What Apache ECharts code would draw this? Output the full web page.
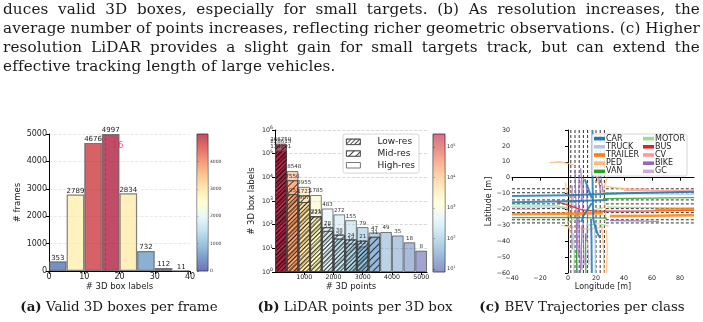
<!DOCTYPE html>
<html>
<head>
<meta charset="utf-8">
<script src="https://cdn.jsdelivr.net/npm/echarts@6/dist/echarts.min.js"></script>
<style>
  html, body { margin: 0; padding: 0; background: #fff; }
  #main { position: absolute; left: 0; top: 0; width: 703px; height: 322px; }
  .para { position: absolute; left: 3px; font-family: "DejaVu Serif", serif; white-space: nowrap;
          font-size: 15.2px; letter-spacing: 0.15px; line-height: 19px; color: #1a1a1a; }
</style>
</head>
<body>
<div id="main"></div>
<div class="para just" style="top:0px">duces valid 3D boxes, especially for small targets. (b) As resolution increases, the</div>
<div class="para just" style="top:19px">average number of points increases, reflecting richer geometric observations. (c) Higher</div>
<div class="para just" style="top:38px">resolution LiDAR provides a slight gain for small targets track, but can extend the</div>
<div class="para" style="top:57px">effective tracking length of large vehicles.</div>
<script>
// (a) valid 3D boxes per frame
var boxBinLeft = [0, 5, 10, 15, 20, 25, 30, 35];
var boxBinWidth = 5;
var frameCounts = [353, 2789, 4676, 4997, 2834, 732, 112, 11];
var meanBoxes = 16;
var frameTicks = [0, 1000, 2000, 3000, 4000];

// (b) LiDAR points per 3D box
var pointBinLeft = [0, 400, 800, 1200, 1600, 2000, 2400, 2800, 3200, 3600, 4000, 4400, 4800];
var pointBinWidth = 400;
var lowRes  = [134291, 1951, 907, 223, 55, 26, 24, 21, null, null, null, null, null];
var midRes  = [228613, 7550, 1721, 231, 78, 38, 16, 12, 31, null, null, null, null];
var highRes = [266750, 18548, 3955, 1785, 483, 272, 155, 79, 47, 49, 35, 18, 8];
var pointTicks = [1000, 2000, 3000, 4000, 5000];
var countTicks = [10, 100, 1000, 10000, 100000];

// (c) BEV trajectories, [lon, lat] in metres
var lonTicks = [-40, -20, 0, 20, 40, 60, 80];
var laneRows = [-7, -9.5, -14, -16.5, -19.5, -22, -26.5, -28.5];
var laneCols = [2, 5, 8, 11, 14, 20, 23, 26];
var carTracks = [
  [[-40,-11.5],[0,-11],[40,-9.8],[90,-8.8]],
  [[-40,-15.5],[0,-14.8],[28,-14]],
  [[17.5,30],[17.5,0],[17.8,-15],[18,-26]],
  [[18,-26],[19.5,-31],[21,-35],[23,-38]],
  [[12,-1],[14.5,-7],[17,-13]],
  [[17,-16],[14,-20],[11,-24],[9.5,-28]],
  [[16.5,-26],[16.8,-40],[17,-60]]
];
var truckTracks = [
  [[30,-10],[60,-10.2],[90,-10.5]],
  [[-40,-18.5],[-15,-18.5],[0,-19]],
  [[19,-30],[19.5,-45],[19.5,-60]]
];
var trailerTracks = [
  [[-40,-23],[0,-22.6],[25,-22.3]],
  [[30,-24.2],[60,-24],[90,-23.6]],
  [[62,-20.2],[90,-19.8]]
];
var pedTracks = [
  [[-13,9.5],[-6,10],[0,9],[4,8]],
  [[27,-5.5],[35,-6.5],[45,-7.2],[58,-7.3]],
  [[-1,-14],[-0.5,-22],[0,-30],[2,-35]],
  [[24,-30],[25,-40],[25.5,-50],[25.8,-60]],
  [[27.5,-33],[28,-45],[27.5,-60]],
  [[20,2],[22,-4],[24.5,-10]],
  [[-5,-30],[5,-31.5],[15,-32.5],[26,-31]],
  [[-2,-3],[-1,-8],[0,-12]],
  [[28,0],[26,-5],[25,-12]],
  [[1,-5],[1.5,-15],[0.5,-25]],
  [[26,-14],[27,-22],[26.5,-28]]
];
var vanTracks = [
  [[25,-13.2],[60,-12.9],[90,-12.6]],
  [[-40,-25.2],[0,-25],[28,-25.5]],
  [[6,-45],[6.5,-60]],
  [[12.5,-35],[12.8,-60]]
];
var motorTracks = [
  [[25,-9.5],[60,-9.2],[90,-9]],
  [[28,-18.6],[60,-18.8],[90,-19]],
  [[0,-28],[8,-24],[15,-21],[25,-19]],
  [[-40,-17],[-10,-17.5],[0,-19]],
  [[29,-30.5],[22,-29],[13,-30]],
  [[4,-35],[4.5,-50],[4,-60]]
];
var busTracks = [
  [[20,-21],[50,-21],[90,-20.6]],
  [[-8,-15.2],[-2,-16.6],[4,-18.5],[10,-20.3],[20,-21]]
];
var cvTracks = [
  [[40,-8],[70,-8.2],[90,-7.8]],
  [[-40,-19.8],[-20,-20]]
];
var bikeTracks = [
  [[5,5],[5.5,-10],[6,-30],[6.2,-60]],
  [[8,2],[7.5,-15],[8,-35],[9,-60]],
  [[11,0],[10.5,-20],[11,-40],[11.5,-55]],
  [[13,-5],[14,-20],[13.5,-40]],
  [[3,-5],[2.5,-25],[3,-45]],
  [[21,8],[22,0],[23,-8]],
  [[30,-27],[50,-27.2],[65,-27.6]],
  [[9,6],[10,-5],[9.5,-15]],
  [[7,-20],[6.5,-35],[7.5,-50]],
  [[10,-30],[9.5,-45],[10,-58]],
  [[23,5],[24,-3],[25,-9]]
];
var gcTracks = [
  [[9,-2],[10,-12]],
  [[14,-40],[15,-55]],
  [[4,-10],[3.5,-20]]
];

var myChart = echarts.init(document.getElementById('main'));

// justify the paragraph lines to the text block width
Array.prototype.forEach.call(document.querySelectorAll('.just'), function (el) {
  var txt = el.textContent;
  el.innerHTML = '<span>' + txt + '</span>';
  var w = el.firstChild.getBoundingClientRect().width;
  var n = txt.split(' ').length - 1;
  el.style.wordSpacing = ((697 - w) / n) + 'px';
});

// RdYlBu_r
var cmapStops = ['#313695','#4575b4','#74add1','#abd9e9','#e0f3f8','#ffffbf',
                 '#fee090','#fdae61','#f46d43','#d73027','#a50026'];
function hexRgb(h) {
  return [parseInt(h.substr(1,2),16), parseInt(h.substr(3,2),16), parseInt(h.substr(5,2),16)];
}
function cmap(t, a) {
  t = Math.max(0, Math.min(1, t));
  var k = t * 10, i = Math.min(9, Math.floor(k)), f = k - i;
  var c0 = hexRgb(cmapStops[i]), c1 = hexRgb(cmapStops[i + 1]);
  var c = c0.map(function (v, j) { return Math.round(v + (c1[j] - v) * f); });
  return 'rgba(' + c[0] + ',' + c[1] + ',' + c[2] + ',' + a + ')';
}
function gradient(a) {
  return new echarts.graphic.LinearGradient(0, 1, 0, 0, cmapStops.map(function (s, i) {
    return { offset: i / 10, color: cmap(i / 10, a) };
  }));
}
function pow10(v) { return '10{s|' + Math.round(Math.log10(v)) + '}'; }
function plain(v) { return String(v).replace('-', '−'); }

var gA = { left: 49, top: 134, width: 141, height: 137 };
var cA = { left: 197, top: 134, width: 11, height: 137 };
var gB = { left: 275, top: 130, width: 152, height: 142 };
var cB = { left: 433, top: 134, width: 12, height: 138 };
var gC = { left: 512, top: 130, width: 182, height: 143 };

var frameMax = Math.max.apply(null, frameCounts);
var cbMin = Math.min.apply(null, highRes), cbMax = Math.max.apply(null, highRes);
function logT(v) { return (Math.log10(v) - Math.log10(cbMin)) / (Math.log10(cbMax) - Math.log10(cbMin)); }

var lowDecal = { symbol: 'rect', symbolSize: 1, dashArrayX: [1, 0], dashArrayY: [1, 1.6],
                 rotation: -Math.PI / 4, color: 'rgba(0,0,0,0.7)' };
var midDecal = { symbol: 'rect', symbolSize: 1, dashArrayX: [1, 0], dashArrayY: [1, 4],
                 rotation: -Math.PI / 4, color: 'rgba(0,0,0,0.7)' };

function axisBase(fs) {
  return {
    axisLine: { show: true, lineStyle: { color: '#000', width: 1 } },
    axisTick: { show: true, inside: false, length: 3, lineStyle: { color: '#000' } },
    axisLabel: { fontSize: fs, color: '#222', margin: 2, formatter: plain },
    splitLine: { show: false }
  };
}
function merge(a, b) { for (var k in b) a[k] = b[k]; return a; }
var supRich = { s: { fontSize: 4.6, padding: [0, 0, 4, 0], color: '#222' } };

function pointSeries(name, vals, decal) {
  return {
    name: name, type: 'bar', xAxisIndex: 2, yAxisIndex: 2,
    barWidth: gB.width * pointBinWidth / 5200, barGap: '-100%',
    data: vals.map(function (v, i) {
      return v == null ? [pointBinLeft[i] + pointBinWidth / 2, null] : {
        value: [pointBinLeft[i] + pointBinWidth / 2, v],
        itemStyle: { color: cmap(logT(highRes[i]), 0.45) }
      };
    }),
    itemStyle: { borderColor: 'rgba(70,70,70,0.7)', borderWidth: 1, decal: decal },
    label: { show: true, position: 'top', distance: 1, fontSize: 5.5, color: '#333',
             formatter: function (p) { return p.value[1]; } }
  };
}

function trackSeries(name, tracks, color, width) {
  return {
    name: name, type: 'lines', coordinateSystem: 'cartesian2d', xAxisIndex: 4, yAxisIndex: 4,
    polyline: true, silent: true,
    lineStyle: { color: color, width: width, opacity: 0.85 },
    data: tracks.map(function (t) { return { coords: t }; })
  };
}

var laneData = [];
laneRows.forEach(function (y) {
  laneData.push({ coords: [[-40, y], [0, y]] });
  laneData.push({ coords: [[27, y], [90, y]] });
});
laneCols.forEach(function (x) {
  laneData.push({ coords: [[x, 30], [x, -60]] });
});

var classes = [
  ['PED', pedTracks, '#ffbb78', 1.3],
  ['BIKE', bikeTracks, '#9467bd', 1.2],
  ['GC', gcTracks, '#c5b0d5', 1.2],
  ['MOTOR', motorTracks, '#98df8a', 1.2],
  ['TRUCK', truckTracks, '#aec7e8', 1.4],
  ['CV', cvTracks, '#ff9896', 1.2],
  ['VAN', vanTracks, '#2ca02c', 1.3],
  ['BUS', busTracks, '#d62728', 1.3],
  ['TRAILER', trailerTracks, '#ff7f0e', 2.6],
  ['CAR', carTracks, '#1f77b4', 2]
];
var classColor = {};
classes.forEach(function (c) { classColor[c[0]] = c[2]; });
function legendItems(names) {
  return names.map(function (n) { return { name: n, itemStyle: { color: classColor[n] } }; });
}
var captionRich = { b: { fontWeight: 'bold', fontSize: 13.4, fontFamily: 'DejaVu Serif', fill: '#1a1a1a' } };

var option = {
  animation: false,
  textStyle: { fontFamily: 'DejaVu Sans' },
  grid: [
    gA,
    merge({ show: true, borderColor: '#333', borderWidth: 0.8 }, cA),
    gB,
    merge({ show: true, borderColor: '#333', borderWidth: 0.8 }, cB),
    gC
  ],
  xAxis: [
    merge(axisBase(8), { gridIndex: 0, type: 'value', min: 0, max: 40, interval: 10,
      name: '# 3D box labels', nameLocation: 'middle', nameGap: 11,
      nameTextStyle: { fontSize: 8.5, color: '#222' } }),
    { gridIndex: 1, type: 'value', min: 0, max: 1, show: false },
    merge(axisBase(6.3), { gridIndex: 2, type: 'value', min: 0, max: 5200,
      axisLabel: { fontSize: 6.3, color: '#222', margin: 2, customValues: pointTicks, formatter: plain },
      axisTick: { show: true, length: 3, lineStyle: { color: '#000' }, customValues: pointTicks },
      name: '# 3D points', nameLocation: 'middle', nameGap: 10,
      nameTextStyle: { fontSize: 8.5, color: '#222' } }),
    { gridIndex: 3, type: 'value', min: 0, max: 1, show: false },
    merge(axisBase(6.3), { gridIndex: 4, type: 'value', min: -40, max: 90,
      axisLabel: { fontSize: 6.3, color: '#222', margin: 2, customValues: lonTicks, formatter: plain },
      axisTick: { show: true, length: 3, lineStyle: { color: '#000' }, customValues: lonTicks },
      name: 'Longitude [m]', nameLocation: 'middle', nameGap: 10,
      nameTextStyle: { fontSize: 8, color: '#222' } })
  ],
  yAxis: [
    merge(axisBase(8), { gridIndex: 0, type: 'value', min: 0, max: 5000, interval: 1000,
      splitLine: { show: true, lineStyle: { color: '#e4e4e4', type: 'dashed', width: 0.8 } },
      name: '# frames', nameLocation: 'middle', nameGap: 27,
      nameTextStyle: { fontSize: 8.5, color: '#222' } }),
    { gridIndex: 1, type: 'value', min: 0, max: frameMax, position: 'right',
      axisLine: { show: false },
      axisTick: { show: true, length: 2, lineStyle: { color: '#333', width: 0.6 }, customValues: frameTicks },
      axisLabel: { fontSize: 4.5, color: '#333', margin: 2, customValues: frameTicks, formatter: plain },
      splitLine: { show: false } },
    merge(axisBase(6.3), { gridIndex: 2, type: 'log', logBase: 10, min: 1, max: 1e6,
      axisLabel: { fontSize: 6.3, color: '#222', margin: 2, formatter: pow10, rich: supRich },
      splitLine: { show: true, lineStyle: { color: '#cfcfcf', type: 'dashed', width: 0.8 } },
      name: '# 3D box labels', nameLocation: 'middle', nameGap: 19,
      nameTextStyle: { fontSize: 8.5, color: '#222' } }),
    { gridIndex: 3, type: 'log', logBase: 10, min: cbMin, max: cbMax, position: 'right',
      axisLine: { show: false },
      axisTick: { show: true, length: 2, lineStyle: { color: '#333', width: 0.6 }, customValues: countTicks },
      axisLabel: { fontSize: 5, color: '#333', margin: 2, customValues: countTicks, formatter: pow10,
                   rich: { s: { fontSize: 3.6, padding: [0, 0, 3, 0], color: '#333' } } },
      splitLine: { show: false } },
    merge(axisBase(6.3), { gridIndex: 4, type: 'value', min: -60, max: 30, interval: 10,
      name: 'Latitude [m]', nameLocation: 'middle', nameGap: 18,
      nameTextStyle: { fontSize: 8, color: '#222' } })
  ],
  legend: [
    { data: [
        { name: 'Low-res', itemStyle: { color: '#fff', borderColor: '#555', borderWidth: 0.8, decal: lowDecal } },
        { name: 'Mid-res', itemStyle: { color: '#fff', borderColor: '#555', borderWidth: 0.8, decal: midDecal } },
        { name: 'High-res', itemStyle: { color: '#fff', borderColor: '#555', borderWidth: 0.8 } }
      ],
      left: 343, top: 134, orient: 'vertical', icon: 'rect', itemWidth: 14, itemHeight: 5.5, itemGap: 0,
      padding: [2, 4, 2, 3], selectedMode: false,
      backgroundColor: 'rgba(255,255,255,0.85)', borderColor: '#ccc', borderWidth: 0.8, borderRadius: 2,
      textStyle: { fontSize: 9, color: '#222', lineHeight: 11.7, padding: [0, 0, 0, 12] } },
    { data: legendItems(['CAR', 'TRUCK', 'TRAILER', 'PED', 'VAN']),
      left: 594, top: 134.5, orient: 'vertical', icon: 'rect', itemWidth: 9, itemHeight: 1.6, itemGap: 0,
      padding: 0, selectedMode: false,
      textStyle: { fontSize: 8, color: '#222', lineHeight: 8.2, padding: [0, 0, 0, -3] } },
    { data: legendItems(['MOTOR', 'BUS', 'CV', 'BIKE', 'GC']),
      left: 643, top: 134.5, orient: 'vertical', icon: 'rect', itemWidth: 9, itemHeight: 1.6, itemGap: 0,
      padding: 0, selectedMode: false,
      textStyle: { fontSize: 8, color: '#222', lineHeight: 8.2, padding: [0, 0, 0, -3] } }
  ],
  graphic: [
    { type: 'rect', z: 3, shape: { x: 592, y: 134, width: 95, height: 42, r: 2 },
      style: { fill: 'rgba(255,255,255,0.85)', stroke: '#ccc', lineWidth: 0.8 } },
    { type: 'text', x: 119, y: 308, style: { text: '{b|(a)} Valid 3D boxes per frame', align: 'center',
      verticalAlign: 'middle', font: '13.4px "DejaVu Serif"', fill: '#1a1a1a', rich: captionRich } },
    { type: 'text', x: 355, y: 308, style: { text: '{b|(b)} LiDAR points per 3D box', align: 'center',
      verticalAlign: 'middle', font: '13.4px "DejaVu Serif"', fill: '#1a1a1a', rich: captionRich } },
    { type: 'text', x: 582, y: 308, style: { text: '{b|(c)} BEV Trajectories per class', align: 'center',
      verticalAlign: 'middle', font: '13.4px "DejaVu Serif"', fill: '#1a1a1a', rich: captionRich } }
  ],
  series: [
    {
      name: 'frames', type: 'bar', xAxisIndex: 0, yAxisIndex: 0,
      barWidth: gA.width * boxBinWidth / 40,
      data: boxBinLeft.map(function (l, i) {
        return { value: [l + boxBinWidth / 2, frameCounts[i]],
                 itemStyle: { color: cmap(frameCounts[i] / frameMax, 0.7) } };
      }),
      itemStyle: { borderColor: 'rgba(90,90,90,0.75)', borderWidth: 1.2 },
      label: { show: true, position: 'top', distance: 0, fontSize: 7, color: '#222',
               formatter: function (p) { return p.value[1]; } },
      markLine: { silent: true, symbol: 'none', label: { show: false },
                  lineStyle: { color: '#e0245a', type: [3, 2], width: 1.2 },
                  data: [{ xAxis: meanBoxes }] }
    },
    {
      name: 'meanLabel', type: 'scatter', xAxisIndex: 0, yAxisIndex: 0, z: 10,
      symbolSize: 1, itemStyle: { color: 'rgba(0,0,0,0)' }, silent: true,
      data: [[meanBoxes, 4560]],
      label: { show: true, position: 'right', distance: 6, color: '#ff1f4b', fontSize: 9,
               formatter: String(meanBoxes) }
    },
    {
      name: 'cbarA', type: 'line', xAxisIndex: 1, yAxisIndex: 1, data: [[0.5, 0]],
      showSymbol: false, lineStyle: { opacity: 0 }, silent: true,
      markArea: { silent: true, itemStyle: { color: gradient(0.7) },
                  data: [[{ xAxis: 0, yAxis: 0 }, { xAxis: 1, yAxis: frameMax }]] }
    },
    pointSeries('High-res', highRes, null),
    pointSeries('Mid-res', midRes, midDecal),
    pointSeries('Low-res', lowRes, lowDecal),
    {
      name: 'cbarB', type: 'line', xAxisIndex: 3, yAxisIndex: 3, data: [[0.5, cbMin]],
      showSymbol: false, lineStyle: { opacity: 0 }, silent: true,
      markArea: { silent: true, itemStyle: { color: gradient(0.55) },
                  data: [[{ xAxis: 0, yAxis: cbMin }, { xAxis: 1, yAxis: cbMax }]] }
    },
    {
      name: 'lanes', type: 'lines', coordinateSystem: 'cartesian2d', xAxisIndex: 4, yAxisIndex: 4,
      polyline: true, silent: true,
      lineStyle: { color: '#000', width: 0.9, type: [3, 2], opacity: 0.9 },
      data: laneData
    }
  ].concat(classes.map(function (c) { return trackSeries(c[0], c[1], c[2], c[3]); }))
};

myChart.setOption(option);
</script>
</body>
</html>
